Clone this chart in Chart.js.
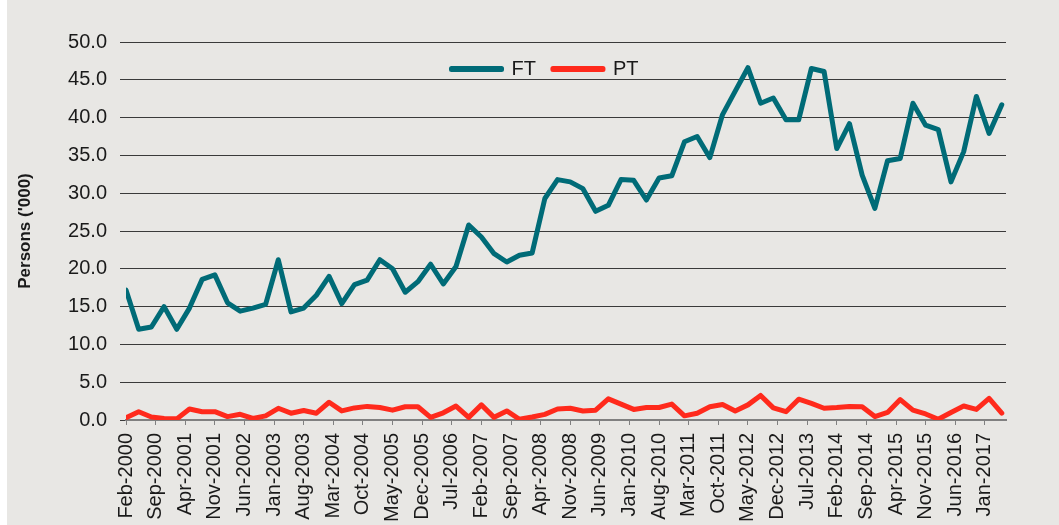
<!DOCTYPE html>
<html>
<head>
<meta charset="utf-8">
<title>FT / PT persons</title>
<script src="https://cdn.jsdelivr.net/npm/chart.js@4.4.1/dist/chart.umd.min.js"></script>
<style>
    html, body { margin: 0; padding: 0; background: #ffffff; }
    #wrap { width: 1059px; height: 525px; position: relative; }
</style>
</head>
<body>
<div id="wrap"><canvas id="personsChart"></canvas></div>
<script>
// quarterly series, Feb-2000 to May-2017 (one value every 3 months)
const ftValues = [
    17.2, 12.0, 12.3, 15.0, 12.0, 14.8, 18.6, 19.2, 15.5, 14.4,
    14.8, 15.3, 21.2, 14.3, 14.8, 16.5, 19.0, 15.4, 17.9, 18.5,
    21.2, 20.0, 16.9, 18.3, 20.6, 18.0, 20.3, 25.8, 24.2, 22.0,
    20.9, 21.8, 22.1, 29.3, 31.8, 31.5, 30.6, 27.6, 28.4, 31.8,
    31.7, 29.1, 32.0, 32.3, 36.8, 37.5, 34.7, 40.4, 43.5, 46.6,
    41.9, 42.6, 39.7, 39.7, 46.5, 46.1, 35.9, 39.2, 32.4, 28.0,
    34.3, 34.6, 41.9, 39.0, 38.4, 31.5, 35.5, 42.8, 37.9, 41.7
];
const ptValues = [
    0.3, 1.1, 0.4, 0.2, 0.15, 1.45, 1.1, 1.1, 0.45, 0.75,
    0.2, 0.55, 1.55, 0.9, 1.25, 0.9, 2.35, 1.2, 1.6, 1.8,
    1.65, 1.3, 1.75, 1.75, 0.35, 0.95, 1.85, 0.35, 2.0, 0.35,
    1.2, 0.1, 0.4, 0.75, 1.45, 1.55, 1.2, 1.3, 2.8, 2.1,
    1.4, 1.65, 1.65, 2.1, 0.55, 0.9, 1.75, 2.05, 1.2, 2.0,
    3.25, 1.6, 1.1, 2.75, 2.2, 1.55, 1.65, 1.8, 1.75, 0.45,
    1.0, 2.7, 1.3, 0.8, 0.1, 1.0, 1.85, 1.4, 2.85, 0.9
];
// x axis labels, one every 7 months starting Feb-2000
const tickLabels = [
    'Feb-2000', 'Sep-2000', 'Apr-2001', 'Nov-2001', 'Jun-2002', 'Jan-2003',
    'Aug-2003', 'Mar-2004', 'Oct-2004', 'May-2005', 'Dec-2005', 'Jul-2006',
    'Feb-2007', 'Sep-2007', 'Apr-2008', 'Nov-2008', 'Jun-2009', 'Jan-2010',
    'Aug-2010', 'Mar-2011', 'Oct-2011', 'May-2012', 'Dec-2012', 'Jul-2013',
    'Feb-2014', 'Sep-2014', 'Apr-2015', 'Nov-2015', 'Jun-2016', 'Jan-2017'
];
const seriesNames = ['FT', 'PT'];
const seriesColors = ['#006b77', '#ff2a1c'];

const MONTHS_PER_POINT = 3;
const MONTHS_PER_LABEL = 7;

function toPoints(values) {
    return values.map((v, i) => ({ x: i * MONTHS_PER_POINT, y: v }));
}

// paint the grey panel behind the chart
const panelBackground = {
    id: 'panelBackground',
    beforeDraw(chart) {
        const ctx = chart.ctx;
        ctx.save();
        ctx.fillStyle = '#e8e7e4';
        ctx.fillRect(7, 0, chart.width - 7, chart.height);
        ctx.restore();
    }
};

// let the top legend take no room so it sits inside the plot,
// then open its clip box again and slide it right like the original
const legendInPlot = {
    id: 'legendInPlot',
    beforeLayout(chart) {
        const legend = chart.legend;
        if (legend && !legend._inPlot) {
            const fit = legend.fit;
            legend.fit = function() {
                fit.call(this);
                this.height = 0;
            };
            legend._inPlot = true;
        }
    },
    afterLayout(chart) {
        const legend = chart.legend;
        if (legend) {
            legend.bottom = legend.top + 50;
            legend.left += 42;
            legend.right += 42;
        }
    }
};

Chart.defaults.font.family = '"Liberation Sans", Arial, sans-serif';
Chart.defaults.color = '#1a1a1a';

const ctx = document.getElementById('personsChart').getContext('2d');
const personsChart = new Chart(ctx, {
    type: 'line',
    data: {
        datasets: seriesNames.map((name, i) => ({
            label: name,
            data: toPoints(i === 0 ? ftValues : ptValues),
            borderColor: seriesColors[i],
            backgroundColor: seriesColors[i],
            borderWidth: 5,
            borderCapStyle: 'round',
            borderJoinStyle: 'round',
            pointRadius: 0,
            tension: 0,
            fill: false
        }))
    },
    options: {
        responsive: true,
        maintainAspectRatio: false,
        animation: false,
        layout: {
            padding: { top: 42, right: 53, bottom: 0, left: 0 }
        },
        plugins: {
            legend: {
                position: 'top',
                labels: {
                    boxWidth: 50,
                    boxHeight: 1,
                    padding: 17,
                    font: { size: 20 }
                }
            },
            tooltip: { enabled: false }
        },
        scales: {
            x: {
                type: 'linear',
                min: 0,
                max: 208,
                afterFit(scale) { scale.height = 105; },
                grid: {
                    drawOnChartArea: false,
                    drawTicks: true,
                    tickLength: 5,
                    color: '#808080'
                },
                border: { color: '#808080', width: 2 },
                ticks: {
                    stepSize: MONTHS_PER_LABEL,
                    includeBounds: false,
                    autoSkip: false,
                    minRotation: 90,
                    maxRotation: 90,
                    padding: 8,
                    font: { size: 20 },
                    callback: function(value) {
                        return tickLabels[value / MONTHS_PER_LABEL];
                    }
                }
            },
            y: {
                min: 0,
                max: 50,
                afterFit(scale) { scale.width = 126; },
                grid: {
                    color: '#3a3a3a',
                    lineWidth: 1,
                    drawTicks: true,
                    tickLength: 6
                },
                border: { display: false },
                ticks: {
                    stepSize: 5,
                    padding: 13,
                    font: { size: 20 },
                    callback: function(value) {
                        return value.toFixed(1);
                    }
                },
                title: {
                    display: true,
                    text: "Persons ('000)",
                    font: { size: 17, weight: 'bold' },
                    padding: { top: 15, bottom: 0 }
                }
            }
        }
    },
    plugins: [panelBackground, legendInPlot]
});
</script>
</body>
</html>
